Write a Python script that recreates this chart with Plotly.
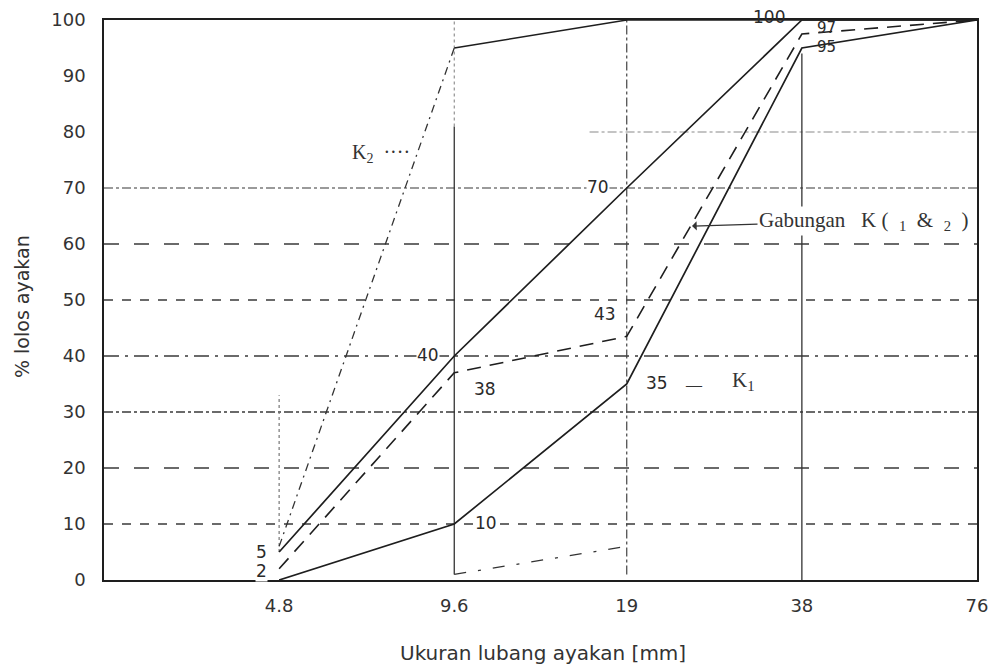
import numpy as np
import plotly.graph_objects as go

# ---------------- data ----------------
sieve_mm = [4.8, 9.6, 19, 38, 76]
tick_text = ["4.8", "9.6", "19", "38", "76"]
y_ticks = list(range(0, 101, 10))

upper_limit = [5, 40, 70, 100, 100]        # solid upper envelope
lower_limit = [0, 10, 35, 95, 100]         # solid lower envelope
gabungan = [2, 37, 43.5, 97.5, 100]        # combined grading K(1 & 2), dashed
k2_x = [4.8, 9.6, 19, 38, 76]
k2 = [6, 95, 100, 100, 100]                # fine fraction K2
k1_x = [9.6, 19]
k1 = [1, 6]                                # visible part of K1

# point labels: (text, x, y)
point_labels = [
    ("100", 38, 100), ("97", 38, 97), ("95", 38, 95), ("70", 19, 70),
    ("43", 19, 43), ("40", 9.6, 40), ("38", 9.6, 38), ("35", 19, 35),
    ("10", 9.6, 10), ("5", 4.8, 5), ("2", 4.8, 2),
]

# ---------------- figure ----------------
L = np.log10
INK = "#1e1e1e"
X_MIN, X_MAX = 2.4, 76
fig = go.Figure()


def grid(xs, ys, color, width, dash):
    fig.add_trace(go.Scatter(x=xs, y=ys, mode="lines", hoverinfo="skip",
                             line=dict(color=color, width=width, dash=dash)))


# horizontal gridlines
h_grid = {10: "dash", 20: "longdash", 30: "dashdot", 40: "longdashdot",
          50: "dash", 60: "longdash", 70: "dashdot"}
for yv, ds in h_grid.items():
    grid([X_MIN, X_MAX], [yv, yv], "#3a3a3a" if yv != 70 else "#7a7a7a", 1.3, ds)
grid([16.4, X_MAX], [80, 80], "#8a8a8a", 1.1, "dashdot")
# vertical gridlines
grid([4.8, 4.8], [5, 33], "#777", 1.2, "dot")
grid([9.6, 9.6], [1, 81], "#333", 1.3, "solid")
grid([9.6, 9.6], [81, 100], "#888", 1.1, "dot")
grid([19, 19], [1, 100], "#444", 1.2, "dashdot")
grid([38, 38], [0, 94], "#333", 1.3, "solid")

# data lines
fig.add_trace(go.Scatter(x=sieve_mm, y=upper_limit, mode="lines",
                         line=dict(color=INK, width=1.7), hoverinfo="skip"))
fig.add_trace(go.Scatter(x=sieve_mm, y=lower_limit, mode="lines",
                         line=dict(color=INK, width=1.7), hoverinfo="skip"))
fig.add_trace(go.Scatter(x=sieve_mm, y=gabungan, mode="lines",
                         line=dict(color=INK, width=1.6, dash="14px,9px"), hoverinfo="skip"))
fig.add_trace(go.Scatter(x=k2_x[:2], y=k2[:2], mode="lines",
                         line=dict(color="#333", width=1.3, dash="8px,5px,2px,5px"), hoverinfo="skip"))
fig.add_trace(go.Scatter(x=k2_x[1:], y=k2[1:], mode="lines",
                         line=dict(color=INK, width=1.5), hoverinfo="skip"))
fig.add_trace(go.Scatter(x=k1_x, y=k1, mode="lines",
                         line=dict(color="#333", width=1.3, dash="12px,12px,3px,12px"), hoverinfo="skip"))

# point value labels
shifts = {
    ("100", 38): (-33, 3), ("97", 38): (25, 9), ("95", 38): (25, 1), ("70", 19): (-29, 1),
    ("43", 19): (-22, 25), ("40", 9.6): (-26, 1), ("38", 9.6): (31, -22),
    ("35", 19): (30, 1), ("10", 9.6): (32, 1), ("5", 4.8): (-18, 0), ("2", 4.8): (-18, -2),
}
for txt, xv, yv in point_labels:
    dx, dy = shifts[(txt, xv)]
    small = txt in ("97", "95")
    fig.add_annotation(x=L(xv), y=yv, text=txt, showarrow=False, xshift=dx, yshift=dy,
                       bgcolor="rgba(255,255,255,0)" if txt == "100" or small else "white",
                       borderpad=0,
                       font=dict(family="DejaVu Sans", size=15 if small else 17, color="#2a2a2a"))

SERIF = "Liberation Serif"
# K1 label
fig.add_annotation(x=L(19), y=35, xshift=67, yshift=0, text="\u2014", showarrow=False,
                   font=dict(family=SERIF, size=16, color="#333"))
fig.add_annotation(x=L(19), y=35, xshift=117, yshift=3, text="K<sub>1</sub>", showarrow=False,
                   font=dict(family=SERIF, size=21, color="#333"))
# K2 label
fig.add_annotation(x=L(6.6), y=76.2, text="K<sub>2</sub>  \u00b7\u00b7\u00b7\u00b7", showarrow=False,
                   xanchor="left", xshift=-10,
                   font=dict(family=SERIF, size=20, color="#333"))
# Gabungan label with arrow
fig.add_annotation(x=L(24.6), y=63.2, ax=172, ay=-5, axref="pixel", ayref="pixel",
                   text="Gabungan\u00a0\u00a0\u00a0K\u00a0(\u00a0\u00a0<sub>1</sub>\u00a0\u00a0&amp;\u00a0\u00a0<sub>2</sub>\u00a0\u00a0)",
                   showarrow=True, arrowhead=1, arrowsize=1.3, arrowwidth=1.2, arrowcolor="#333",
                   bgcolor="white", borderpad=1,
                   font=dict(family=SERIF, size=21, color="#333"))

# axis titles
fig.add_annotation(xref="paper", yref="paper", x=-0.109, y=0.489, text="% lolos ayakan",
                   textangle=-90, showarrow=False,
                   font=dict(family="DejaVu Sans", size=19, color="#333"))
fig.add_annotation(xref="paper", yref="paper", x=0.503, y=-0.155, text="Ukuran lubang ayakan [mm]",
                   showarrow=False, font=dict(family="DejaVu Sans", size=20, color="#333"))

fig.update_xaxes(type="log", range=[L(X_MIN), L(X_MAX)], tickvals=sieve_mm, ticktext=tick_text,
                 showgrid=False, zeroline=False, showline=True, mirror=True, automargin=False,
                 linecolor=INK, linewidth=1.6, ticks="", ticklabelstandoff=9,
                 tickfont=dict(family="DejaVu Sans", size=18, color="#333"))
fig.update_yaxes(range=[0, 100], tickvals=y_ticks, showgrid=False, zeroline=False,
                 showline=True, mirror=True, automargin=False, linecolor=INK, linewidth=1.6, ticks="",
                 ticklabelstandoff=13,
                 tickfont=dict(family="DejaVu Sans", size=18, color="#333"))
# the page body adds an 8px offset, so margins compensate for it
fig.update_layout(width=1000, height=669, showlegend=False,
                  margin=dict(l=96, r=31, t=12, b=97, autoexpand=False),
                  plot_bgcolor="white", paper_bgcolor="white")

fig.write_html("out.html")
